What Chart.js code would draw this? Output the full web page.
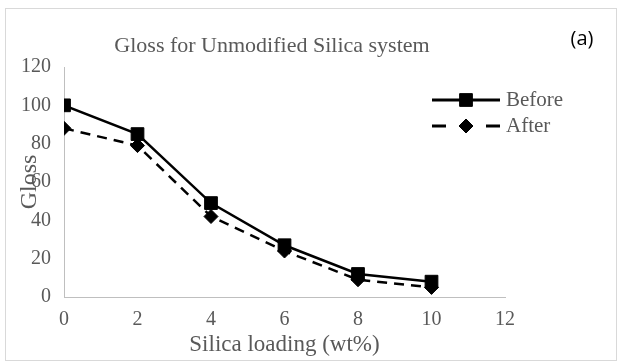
<!DOCTYPE html>
<html>
<head>
<meta charset="utf-8">
<script src="https://cdn.jsdelivr.net/npm/chart.js@4/dist/chart.umd.min.js"></script>
<style>
  html, body { margin: 0; padding: 0; background: #ffffff; }
  #wrap { position: relative; width: 620px; height: 363px; }
</style>
</head>
<body>
<div id="wrap"><canvas id="c"></canvas></div>
<script>
// ---- data ----
const silicaLoading = [0, 2, 4, 6, 8, 10];
const glossBefore = [100, 85, 49, 27, 12, 8];
const glossAfter = [88, 79, 42, 24, 9, 5];
const seriesNames = ['Before', 'After'];
const chartTitle = 'Gloss for Unmodified Silica system';
const panelLabel = '(a)';
const xTitle = 'Silica loading (wt%)';
const yTitle = 'Gloss';

const SERIF = "'Liberation Serif', 'Times New Roman', serif";
const GREY = '#595959';

const toPoints = (xs, ys) => xs.map((x, i) => ({ x: x, y: ys[i] }));

const decorations = {
  id: 'decorations',
  beforeDraw(chart) {
    const ctx = chart.ctx;
    ctx.save();
    ctx.fillStyle = '#ffffff';
    ctx.fillRect(0, 0, chart.width, chart.height);
    ctx.strokeStyle = '#d9d9d9';
    ctx.lineWidth = 1;
    ctx.strokeRect(5.5, 8.5, 611, 352);
    ctx.restore();
  },
  afterDraw(chart) {
    const ctx = chart.ctx;
    ctx.save();
    // title
    ctx.fillStyle = GREY;
    ctx.font = "22px " + SERIF;
    ctx.textAlign = 'center';
    ctx.textBaseline = 'middle';
    ctx.fillText(chartTitle, 272, 46);
    // panel label
    ctx.fillStyle = '#000000';
    ctx.font = "20px 'Open Sans', sans-serif";
    ctx.fillText(panelLabel, 582, 39);
    // legend
    const items = chart.data.datasets;
    const x0 = 432, x1 = 500;
    const ys = [100, 126];
    items.forEach((ds, i) => {
      const y = ys[i];
      ctx.strokeStyle = ds.borderColor;
      ctx.lineWidth = 3;
      ctx.setLineDash([]);
      ctx.beginPath();
      if (ds.borderDash) {
        ctx.moveTo(x0, y); ctx.lineTo(x0 + 14, y);
        ctx.moveTo(x1 - 14, y); ctx.lineTo(x1, y);
      } else {
        ctx.moveTo(x0, y); ctx.lineTo(x1, y);
      }
      ctx.stroke();
      ctx.fillStyle = '#000000';
      ctx.strokeStyle = '#000000';
      ctx.lineWidth = 1;
      Chart.helpers.drawPoint(ctx, {
        pointStyle: ds.pointStyle,
        radius: ds.pointRadius,
        borderWidth: 1,
        rotation: 0
      }, (x0 + x1) / 2, y);
      ctx.fillStyle = GREY;
      ctx.font = "21px " + SERIF;
      ctx.textAlign = 'left';
      ctx.textBaseline = 'middle';
      ctx.fillText(ds.label, 506, y);
    });
    ctx.restore();
  }
};

new Chart(document.getElementById('c'), {
  type: 'line',
  data: {
    datasets: [
      {
        label: seriesNames[0],
        data: toPoints(silicaLoading, glossBefore),
        borderColor: '#000000',
        backgroundColor: '#000000',
        borderWidth: 2.5,
        pointStyle: 'rect',
        pointRadius: 9,
        pointBorderWidth: 1,
        pointBorderColor: '#000000',
        pointBackgroundColor: '#000000',
        tension: 0
      },
      {
        label: seriesNames[1],
        data: toPoints(silicaLoading, glossAfter),
        borderColor: '#000000',
        backgroundColor: '#000000',
        borderWidth: 2.5,
        borderDash: [10, 7],
        pointStyle: 'rectRot',
        pointRadius: 7,
        pointBorderWidth: 1,
        pointBorderColor: '#000000',
        pointBackgroundColor: '#000000',
        tension: 0
      }
    ]
  },
  options: {
    responsive: true,
    maintainAspectRatio: false,
    animation: false,
    devicePixelRatio: 1,
    layout: { padding: { top: 67, right: 115, left: 0, bottom: 0 } },
    plugins: {
      legend: { display: false },
      title: { display: false },
      tooltip: { enabled: false }
    },
    scales: {
      x: {
        type: 'linear',
        min: 0,
        max: 12,
        afterFit(scale) { scale.height = 66; },
        ticks: { stepSize: 2, color: GREY, padding: 11, font: { family: SERIF, size: 20 } },
        grid: { display: false, drawTicks: false },
        border: { display: true, color: '#bfbfbf', width: 1 },
        title: { display: true, text: xTitle, color: GREY, padding: { top: 0, bottom: 4 }, font: { family: SERIF, size: 23 } }
      },
      y: {
        type: 'linear',
        min: 0,
        max: 120,
        afterFit(scale) { scale.width = 64; },
        ticks: { stepSize: 20, color: GREY, padding: 13, font: { family: SERIF, size: 20 } },
        grid: { display: false, drawTicks: false },
        border: { display: true, color: '#bfbfbf', width: 1 },
        title: { display: true, text: yTitle, color: GREY, padding: { top: 15, bottom: 0 }, font: { family: SERIF, size: 24 } }
      }
    }
  },
  plugins: [decorations]
});
</script>
</body>
</html>
